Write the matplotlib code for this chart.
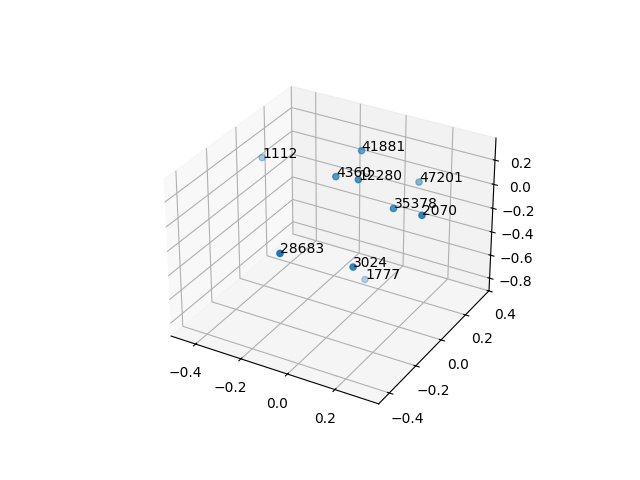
import numpy as np
import matplotlib
matplotlib.use('Agg')
import matplotlib.pyplot as plt

labels = ['28683', '2070', '3024', '12280', '35378', '4360', '41881', '47201', '1112', '1777']
xs = [-0.047, 0.317, 0.150, 0.044, 0.181, -0.050, -0.033, 0.126, -0.470, -0.040]
ys = [-0.441, -0.059, -0.263, -0.042, -0.023, -0.043, 0.117, 0.279, 0.116, 0.165]
zs = [0.012, 0.146, -0.163, 0.270, 0.093, 0.246, 0.321, -0.001, 0.044, -0.814]

fig = plt.figure()
ax = fig.add_subplot(projection='3d')
ax.scatter(xs, ys, zs)
for i in range(len(labels)):
    ax.text(xs[i], ys[i], zs[i], labels[i])
ax.set_xlim(-0.51, 0.38)
ax.set_ylim(-0.478, 0.402)
ax.set_zlim(-0.91, 0.38)
plt.savefig('out.png')
